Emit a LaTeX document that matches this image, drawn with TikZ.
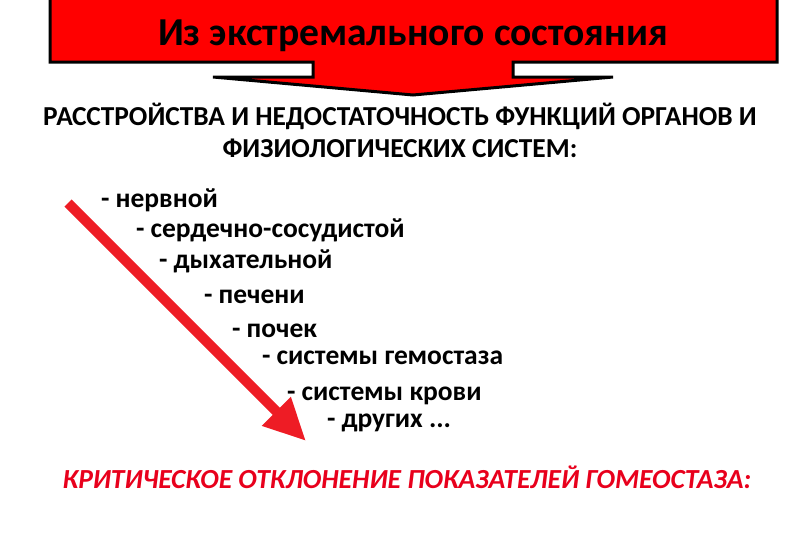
\documentclass[tikz,border=0pt]{standalone}
\usepackage{fontspec}
\setmainfont{Carlito}
\usepackage{xcolor}
\definecolor{bannerred}{HTML}{FF0000}
\definecolor{arrowred}{HTML}{EE1C25}
\definecolor{textred}{HTML}{E8001C}
\usetikzlibrary{positioning}
\usetikzlibrary{arrows.meta}

\begin{document}
\begin{tikzpicture}[x=1pt,y=-1pt,every node/.style={inner sep=0,outer sep=0,font=\bfseries},
    item/.style={font=\fontsize{27.5}{27.5}\selectfont\bfseries,anchor=base west},
    heading/.style={font=\fontsize{27.4}{27.4}\selectfont\bfseries}]
	\useasboundingbox (0,0) rectangle (800,533);
	% banner with arrow
	\draw[fill=bannerred,line width=3pt,line join=miter]
	    (50,-2) -- (777,-2) -- (777,62) -- (513,62) -- (513,77) -- (613,77)
	    -- (413,95) -- (213,77) -- (313,77) -- (313,62) -- (50,62) -- cycle;
	\node (title) at (413,36) {\fontsize{39.6}{39.6}\selectfont\bfseries Из экстремального состояния};
	\node (h1) [heading] at (400,116) {РАССТРОЙСТВА И НЕДОСТАТОЧНОСТЬ ФУНКЦИЙ ОРГАНОВ И};
	\node (h2) [heading] at (400,148) {ФИЗИОЛОГИЧЕСКИХ СИСТЕМ:};
	% list
	\node (n1) [item] at (101,207) {- нервной};
	\node (n2) [item, right=35pt of n1.base west, anchor=base west, yshift=-30pt] {- сердечно-сосудистой};
	\node (n3) [item, right=23pt of n2.base west, anchor=base west, yshift=-31pt] {- дыхательной};
	\node (n4) [item, right=45pt of n3.base west, anchor=base west, yshift=-35pt] {- печени};
	\node (n5) [item, right=28pt of n4.base west, anchor=base west, yshift=-34pt] {- почек};
	\node (n6) [item, right=30pt of n5.base west, anchor=base west, yshift=-27pt] {- системы гемостаза};
	\node (n7) [item, right=25pt of n6.base west, anchor=base west, yshift=-36pt] {- системы крови};
	\node (n8) [item, right=40pt of n7.base west, anchor=base west, yshift=-27pt] {- других ...};
	% red arrow
	\coordinate (a0) at (68,203);
	\coordinate (a1) at (306,441);
	\draw[arrowred,line width=10pt,-{Triangle[length=42pt,width=38pt]}] (a0) -- (a1);
	\node (crit) at (407,477) {\fontsize{27.6}{27.6}\selectfont\bfseries\itshape\color{textred}КРИТИЧЕСКОЕ ОТКЛОНЕНИЕ ПОКАЗАТЕЛЕЙ ГОМЕОСТАЗА:};
\end{tikzpicture}
\end{document}
